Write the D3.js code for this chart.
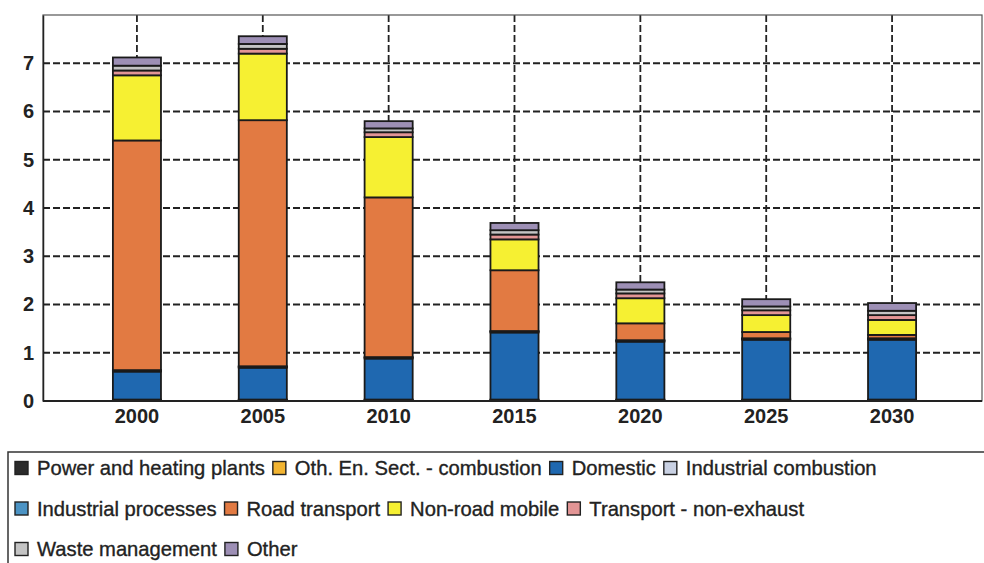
<!DOCTYPE html>
<html>
<head>
<meta http-equiv='Content-Type' content='text/html;charset=utf-8'/>
<title>Emissions by sector</title>
<script src='https://d3js.org/d3.v7.min.js'></script>
<style>
	body { margin: 0; background: #ffffff; }
	text { font-family: 'Liberation Sans', Arial, sans-serif; fill: #222222; }
</style>
</head>
<body>
<script>
'use strict'
const years = ['2000', '2005', '2010', '2015', '2020', '2025', '2030']
const sectors = ['Power and heating plants', 'Oth. En. Sect. - combustion', 'Domestic', 'Industrial combustion',
	'Industrial processes', 'Road transport', 'Non-road mobile', 'Transport - non-exhaust', 'Waste management', 'Other']
const colors = ['#2b2b2b', '#f2b431', '#1f68b0', '#c9d1e3', '#4b93c4', '#e27a42', '#f6f032', '#e39595', '#c4c4c4', '#9d8fb5']

// values per sector, one per year
const power      = [0.02, 0.02, 0.02, 0.02, 0.02, 0.02, 0.02]
const othEn      = [0.01, 0.01, 0.01, 0.01, 0.01, 0.01, 0.01]
const domestic   = [0.58, 0.66, 0.85, 1.39, 1.20, 1.24, 1.24]
const indComb    = [0.02, 0.02, 0.02, 0.02, 0.02, 0.02, 0.02]
const indProc    = [0.01, 0.01, 0.01, 0.01, 0.01, 0.01, 0.01]
const road       = [4.76, 5.10, 3.31, 1.26, 0.35, 0.13, 0.07]
const nonRoad    = [1.35, 1.38, 1.25, 0.64, 0.52, 0.35, 0.31]
const nonExhaust = [0.10, 0.10, 0.10, 0.10, 0.10, 0.10, 0.10]
const waste      = [0.10, 0.10, 0.08, 0.09, 0.08, 0.08, 0.09]
const other      = [0.17, 0.16, 0.15, 0.15, 0.15, 0.15, 0.16]
const series = [power, othEn, domestic, indComb, indProc, road, nonRoad, nonExhaust, waste, other]
const yTicks = [0, 1, 2, 3, 4, 5, 6, 7]

const width = 984
const height = 563
const plot = {left: 43, right: 982, top: 15, bottom: 401}

const svg = d3.select('body').append('svg')
	.attr('width', width)
	.attr('height', height)

const table = years.map(function(y, i) {
	const row = {year: y}
	sectors.forEach(function(s, k) { row[s] = series[k][i] })
	return row
})
const stacked = d3.stack().keys(sectors)(table)

const x = d3.scaleBand().domain(years).range([74, 955]).paddingInner(0.618).paddingOuter(0.309)
const y = d3.scaleLinear().domain([0, 8]).range([plot.bottom, plot.top])

// horizontal grid
svg.append('g').selectAll('line').data(yTicks.slice(1)).join('line')
	.attr('x1', plot.left).attr('x2', plot.right)
	.attr('y1', d => y(d)).attr('y2', d => y(d))
	.attr('stroke', '#222').attr('stroke-width', 1.8).attr('stroke-dasharray', '7,3')

// vertical grid through the bar centres
svg.append('g').selectAll('line').data(years).join('line')
	.attr('x1', d => x(d) + x.bandwidth() / 2).attr('x2', d => x(d) + x.bandwidth() / 2)
	.attr('y1', plot.top).attr('y2', plot.bottom)
	.attr('stroke', '#222').attr('stroke-width', 1.8).attr('stroke-dasharray', '7,3')

// frame
svg.append('rect')
	.attr('x', plot.left).attr('y', plot.top)
	.attr('width', plot.right - plot.left).attr('height', plot.bottom - plot.top)
	.attr('fill', 'none').attr('stroke', '#555').attr('stroke-width', 1.2)

// bars
svg.append('g').selectAll('g').data(stacked).join('g')
	.attr('fill', (d, i) => colors[i])
	.selectAll('rect').data(d => d).join('rect')
	.attr('x', d => x(d.data.year))
	.attr('y', d => y(d[1]))
	.attr('width', x.bandwidth())
	.attr('height', d => y(d[0]) - y(d[1]))
	.attr('stroke', '#1a1a1a').attr('stroke-width', 1.8)

// axes
const yAxis = svg.append('g')
	.attr('transform', 'translate(' + plot.left + ',0)')
	.call(d3.axisLeft(y).tickValues(yTicks).tickFormat(d3.format('d')).tickSize(0).tickPadding(9))
yAxis.select('.domain').attr('stroke', '#222').attr('stroke-width', 1.5)
yAxis.selectAll('text').attr('font-size', 20).attr('font-weight', 'bold').attr('fill', '#222')

const xAxis = svg.append('g')
	.attr('transform', 'translate(0,' + plot.bottom + ')')
	.call(d3.axisBottom(x).tickSize(0).tickPadding(8))
xAxis.select('.domain').attr('d', 'M' + plot.left + ',0H' + plot.right).attr('stroke', '#222').attr('stroke-width', 1.8)
xAxis.selectAll('text').attr('font-size', 20).attr('font-weight', 'bold').attr('fill', '#222')

// legend box
svg.append('path')
	.attr('d', 'M8,' + height + 'V452H' + width)
	.attr('fill', 'none').attr('stroke', '#333').attr('stroke-width', 1.5)

const legend = svg.append('g')
let lx = 15
let ly = 468
sectors.forEach(function(s, i) {
	const item = legend.append('g')
	item.append('rect')
		.attr('width', 13).attr('height', 13)
		.attr('fill', colors[i]).attr('stroke', '#222').attr('stroke-width', 1.4)
	const t = item.append('text')
		.attr('x', 22).attr('y', 0).attr('dy', '0.35em')
		.attr('font-size', 20.2)
		.attr('stroke', '#222').attr('stroke-width', 0.35)
		.text(s)
	const w = 22 + t.node().getComputedTextLength()
	if (lx + w > 960) {
		lx = 15
		ly += 40.5
	}
	item.select('rect').attr('y', -6.5)
	item.attr('transform', 'translate(' + lx + ',' + ly + ')')
	lx += w + 8
})
</script>
</body>
</html>
